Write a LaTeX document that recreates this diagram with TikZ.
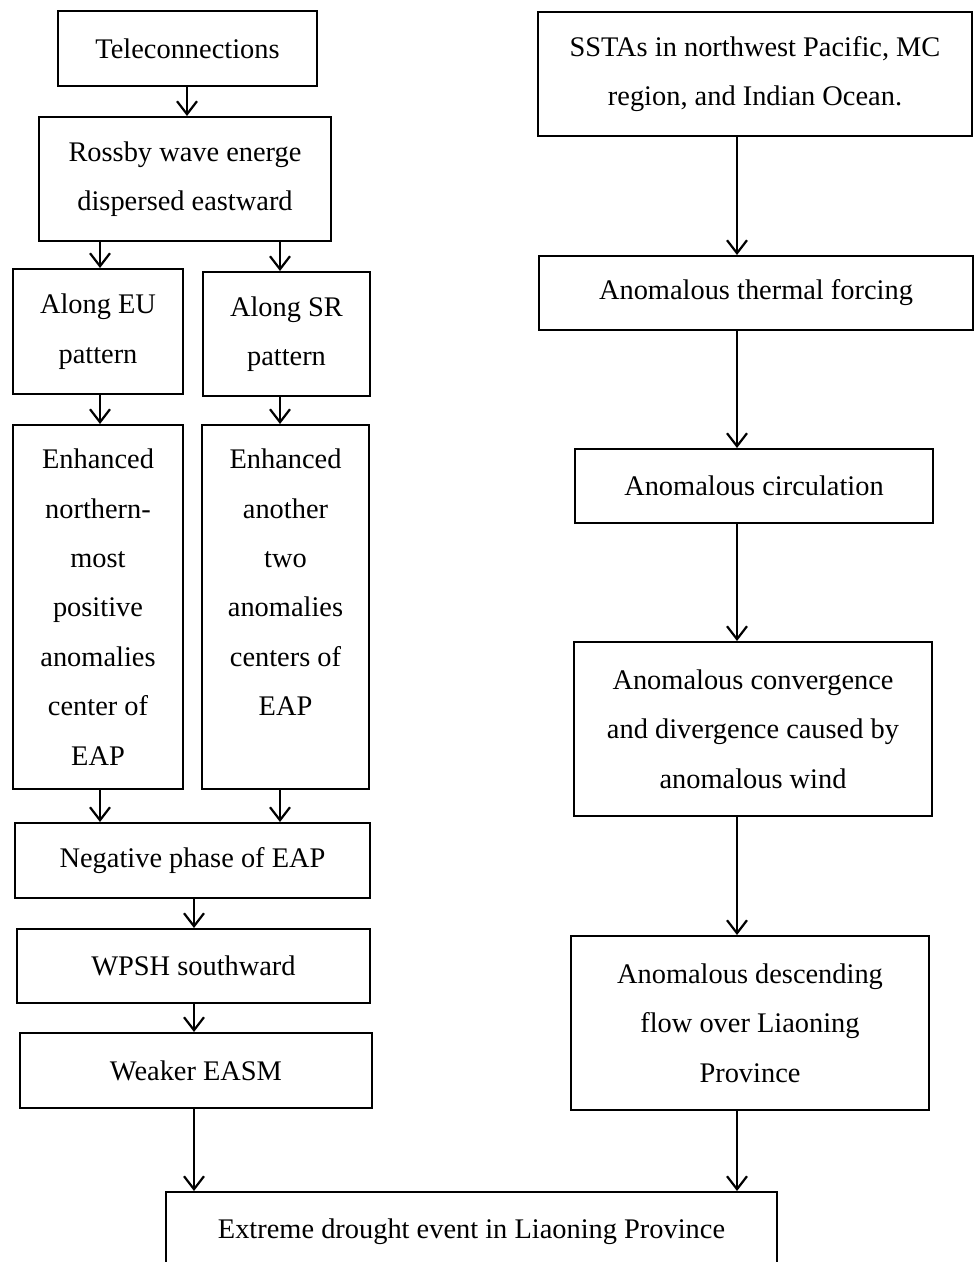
\documentclass[tikz,border=0pt]{standalone}
\usepackage{fontspec}
\setmainfont{Liberation Serif}
\usetikzlibrary{arrows.meta,positioning}
\tikzset{
  box/.style ={rectangle, draw=black, line width=1pt, inner sep=0pt,
               align=center, font=\fontsize{14.2}{24.7}\selectfont},
  ar/.style  ={-{Straight Barb[length=6.5pt,width=10pt]}, line width=1.1pt}
}
\begin{document}
\begin{tikzpicture}[x=0.5pt, y=-0.5pt]
\useasboundingbox (0,0) rectangle (974,1262);
% columns of the connectors
\coordinate (lcol) at (100,0);
\coordinate (mcol) at (280,0);
\coordinate (ccol) at (194,0);
\coordinate (rcol) at (737,0);
% left branch
\node[box, minimum width=129.5pt, minimum height=37.5pt] (tele)   at (187.5,48.5) {Teleconnections};
\node[box, minimum width=146pt,   minimum height=62pt]   (rossby) at (185,179)    {Rossby wave energe\\dispersed eastward};
\node[box, minimum width=85pt,    minimum height=62.5pt] (eu)     at (98,331.5)   {Along EU\\pattern};
\node[box, minimum width=83.5pt,  minimum height=62pt]   (sr)     at (286.5,334)  {Along SR\\pattern};
\node[box, minimum width=85pt,    minimum height=182pt]  (enhn)   at (98,607)     {Enhanced\\northern-\\most\\positive\\anomalies\\center of\\EAP};
\node[box, minimum width=83.5pt,  minimum height=182pt]  (enha)   at (285.5,607)  {Enhanced\\another\\two\\anomalies\\centers of\\EAP\\\mbox{}};
\node[box, minimum width=177.5pt, minimum height=37.5pt] (neg)    at (192.5,860.5) {Negative phase of EAP};
\node[box, minimum width=176.5pt, minimum height=37pt]   (wpsh)   at (193.5,966)  {WPSH southward};
\node[box, minimum width=176pt,   minimum height=37.5pt] (weak)   at (196,1070.5) {Weaker EASM};
% right branch
\node[box, minimum width=217pt,   minimum height=62pt]   (ssta)   at (755,74)     {SSTAs in northwest Pacific, MC\\region, and Indian Ocean.};
\node[box, minimum width=217pt,   minimum height=37pt]   (therm)  at (756,293)    {Anomalous thermal forcing};
\node[box, minimum width=179pt,   minimum height=37pt]   (circ)   at (754,486)    {Anomalous circulation};
\node[box, minimum width=179pt,   minimum height=87pt]   (conv)   at (753,729)    {Anomalous convergence\\and divergence caused by\\anomalous wind};
\node[box, minimum width=179pt,   minimum height=87pt]   (desc)   at (750,1023)   {Anomalous descending\\flow over Liaoning\\Province};
% result
\node[box, minimum width=305.5pt, minimum height=40pt]   (drought) at (471.5,1232) {Extreme drought event in Liaoning Province};
% connectors
\draw[ar] (tele.south -| ccol) ++(-7,0) coordinate (t1) -- (t1 |- rossby.north);
\draw[ar] (rossby.south -| lcol) -- (eu.north -| lcol);
\draw[ar] (rossby.south -| mcol) -- (sr.north -| mcol);
\draw[ar] (eu.south -| lcol) -- (enhn.north -| lcol);
\draw[ar] (sr.south -| mcol) -- (enha.north -| mcol);
\draw[ar] (enhn.south -| lcol) -- (neg.north -| lcol);
\draw[ar] (enha.south -| mcol) -- (neg.north -| mcol);
\draw[ar] (neg.south -| ccol) -- (wpsh.north -| ccol);
\draw[ar] (wpsh.south -| ccol) -- (weak.north -| ccol);
\draw[ar] (weak.south -| ccol) -- (drought.north -| ccol);
\draw[ar] (ssta.south -| rcol) -- (therm.north -| rcol);
\draw[ar] (therm.south -| rcol) -- (circ.north -| rcol);
\draw[ar] (circ.south -| rcol) -- (conv.north -| rcol);
\draw[ar] (conv.south -| rcol) -- (desc.north -| rcol);
\draw[ar] (desc.south -| rcol) -- (drought.north -| rcol);
\end{tikzpicture}
\end{document}
